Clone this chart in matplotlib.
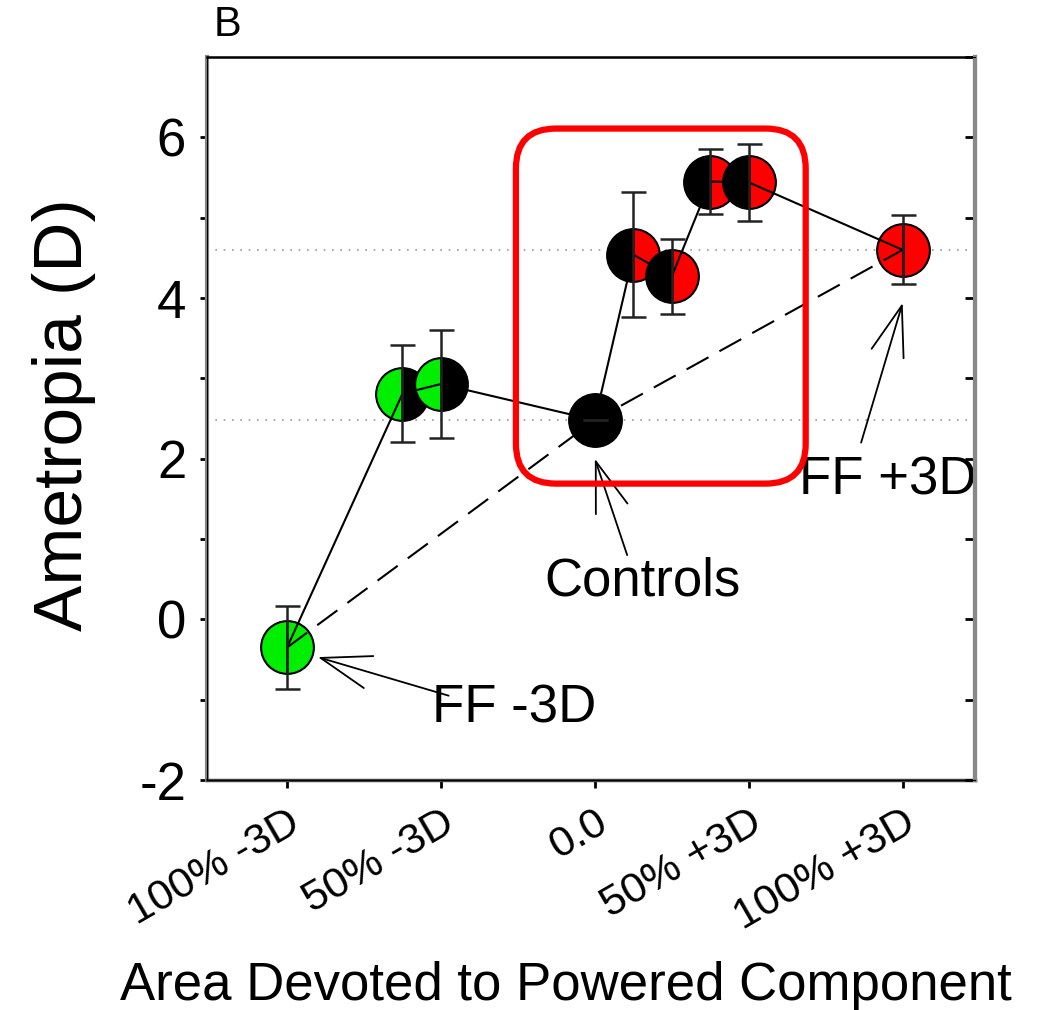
import matplotlib
matplotlib.use("Agg")
from matplotlib import pyplot as plt
from matplotlib.patches import FancyBboxPatch
import numpy as np

plt.rcParams['font.family'] = ['Liberation Sans', 'DejaVu Sans']
plt.rcParams['axes.unicode_minus'] = False

# positions along the powered-component axis (-2 = 100% -3D ... 2 = 100% +3D)
x_pos = [-2.0, -1.25, -1.0, 0.0, 0.25, 0.5, 0.75, 1.0, 2.0]
ametropia = [-0.35, 2.81, 2.93, 2.48, 4.54, 4.27, 5.45, 5.44, 4.60]
sem = [0.52, 0.60, 0.67, 0.0, 0.78, 0.47, 0.40, 0.48, 0.43]
left_colors = ['#00ee00', '#00ee00', '#00ee00', 'black', 'black', 'black', 'black', 'black', '#ff0000']
right_colors = ['#00ee00', 'black', 'black', 'black', '#ff0000', '#ff0000', '#ff0000', '#ff0000', '#ff0000']

tick_pos = [-2, -1, 0, 1, 2]
tick_labels = ['100% -3D', '50% -3D', '0.0', '50% +3D', '100% +3D']

# reference levels: full-field +3D and controls
ff_plus = ametropia[-1]
controls = ametropia[3]

fig = plt.figure(figsize=(10.43, 10.10), dpi=100)
ax = fig.add_axes([0.1985, 0.2277, 0.7363, 0.7158])

ax.axhline(ff_plus, color='#999999', lw=1.2, ls=(0, (1, 4)), zorder=1)
ax.axhline(controls, color='#999999', lw=1.2, ls=(0, (1, 4)), zorder=1)

for x, y, lc, rc in zip(x_pos, ametropia, left_colors, right_colors):
    ax.plot(x, y, 'o', ms=38, fillstyle='left', markerfacecolor=lc,
            markerfacecoloralt=rc, markeredgecolor='black', mew=1.5, zorder=2)

# full-field and controls joined by a dashed line
ends = [0, 3, 8]
ax.plot([x_pos[i] for i in ends], [ametropia[i] for i in ends], color='black',
        lw=1.5, dashes=(12, 6), zorder=3)
ax.plot(x_pos, ametropia, color='black', lw=1.5, zorder=3)

ax.errorbar(x_pos, ametropia, yerr=sem, fmt='none', ecolor='#222222',
            elinewidth=1.8, capsize=9, capthick=1.8, zorder=4)

# highlight box around the partial-field groups
box = FancyBboxPatch((-0.513, 1.69), 1.883, 4.42,
                     boxstyle='round,pad=0,rounding_size=0.26',
                     mutation_aspect=1.918, fill=False, edgecolor='#ff0000',
                     lw=4.5, zorder=5)
ax.add_patch(box)

arrow = dict(arrowstyle='->,head_length=1.8,head_width=0.6', color='black',
             lw=1.3, mutation_scale=20, shrinkA=0, shrinkB=0)
ax.annotate('', xy=(-1.80, -0.47), xytext=(-0.95, -0.95), arrowprops=arrow)
ax.text(-1.06, -1.11, 'FF -3D', fontsize=38, ha='left', va='center')
ax.annotate('', xy=(0.0, 2.0), xytext=(0.21, 0.80), arrowprops=arrow)
ax.text(0.31, 0.47, 'Controls', fontsize=38, ha='center', va='center')
ax.annotate('', xy=(2.0, 3.94), xytext=(1.73, 2.2), arrowprops=arrow)
ax.text(1.90, 1.73, 'FF +3D', fontsize=38, ha='center', va='center')

ax.set_xlim(-2.52, 2.47)
ax.set_ylim(-2, 7)
ax.set_xticks(tick_pos)
ax.set_xticklabels(tick_labels, rotation=30, ha='right', rotation_mode='anchor')
ax.set_yticks([-2, 0, 2, 4, 6])
ax.set_yticks(np.arange(-1, 7, 2), minor=True)
ax.tick_params(axis='x', labelsize=31, length=6, width=2, pad=10)
ax.tick_params(axis='y', which='both', labelsize=38, length=5, width=2, pad=10)

# inward ticks on the right-hand frame
ax_r = ax.twinx()
ax_r.set_ylim(ax.get_ylim())
ax_r.set_yticks(np.arange(-2, 8, 1))
ax_r.tick_params(axis='y', direction='in', length=7, width=2, labelright=False)
ax_r.spines['right'].set_color('#888888')
ax_r.spines['right'].set_linewidth(3)

ax.set_ylabel('Ametropia (D)', fontsize=50)
ax.yaxis.set_label_coords(-0.145, 0.505)
ax.set_xlabel('Area Devoted to Powered Component', fontsize=38)
ax.xaxis.set_label_coords(0.467, -0.25)

for side in ['left', 'right']:
    ax.spines[side].set_color('#888888')
    ax.spines[side].set_linewidth(3)
ax.spines['top'].set_linewidth(1.8)
ax.spines['bottom'].set_color('#444444')
ax.spines['bottom'].set_linewidth(2.5)

fig.text(0.205, 0.975, 'B', fontsize=30, ha='left', va='center')

fig.savefig('out.png', dpi=100)
